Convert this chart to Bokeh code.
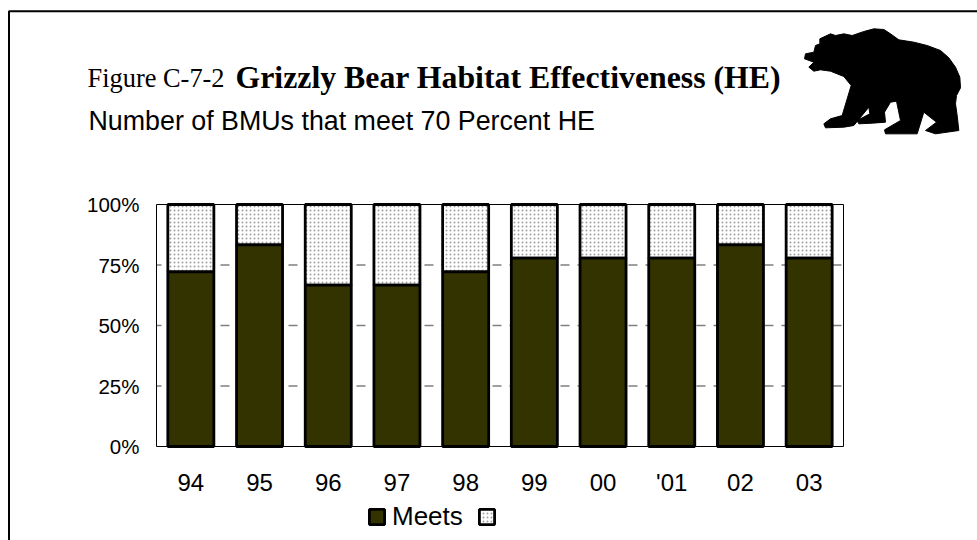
from bokeh.embed import file_html
from bokeh.resources import INLINE
from bokeh.plotting import figure
from bokeh.models import (ColumnDataSource, Range1d, FixedTicker, Label, LinearAxis,
                          Legend, LegendItem, PolyAnnotation)

years = ["94", "95", "96", "97", "98", "99", "00", "'01", "02", "03"]
meets = [72.2, 83.3, 66.7, 66.7, 72.2, 77.8, 77.8, 77.8, 83.3, 77.8]
total = [100] * 10
y_ticks = [0, 25, 50, 75, 100]
grid_ticks = [25, 50, 75]
y_labels = {0: "0%", 25: "25%", 50: "50%", 75: "75%", 100: "100%"}

# Bear silhouette outline (3x zoom of the crop at x=780, y=0)
bear_outline = [(118,115),(150,100),(165,105),(190,100),(215,105),(250,93),(280,85),(310,87),(330,100),
    (355,118),(400,125),(440,135),(480,150),(505,172),(525,200),(538,230),(540,262),(528,285),(525,310),
    (530,345),(535,390),(465,400),(435,390),(468,365),(430,335),(410,400),(315,400),(312,388),(360,360),
    (348,302),(330,305),(312,335),(315,365),(275,368),(235,370),(230,360),(268,340),(265,320),(220,375),
    (190,380),(135,382),(130,370),(150,355),(185,345),(200,295),(212,255),(190,228),(150,212),(120,208),
    (100,212),(85,200),(100,185),(72,175),(75,160),(100,155),(105,135),(118,130)]

W, H = 977, 540
FRAME_L, FRAME_T, FRAME_R, FRAME_B = 156, 204, 843, 446
n = len(years)
px_x = (FRAME_R - FRAME_L) / n
px_y = (FRAME_B - FRAME_T) / 100
pos = [i + 0.5 for i in range(n)]

src = ColumnDataSource(dict(x=pos, meets=meets, total=total))

p = figure(width=W, height=H, output_backend="svg", toolbar_location=None,
           x_range=Range1d(-FRAME_L / px_x, (W - FRAME_L) / px_x),
           y_range=Range1d(-(H - FRAME_B) / px_y, FRAME_B / px_y),
           x_axis_type=None, y_axis_type=None, min_border=0)
p.outline_line_color = None
p.background_fill_color = "white"
p.border_fill_color = "white"
p.xgrid.visible = False
p.ygrid.visible = False

p.segment(x0=[0] * 3, x1=[n] * 3, y0=grid_ticks, y1=grid_ticks, line_color="#808080", line_width=1.5,
          line_dash="9 8", line_dash_offset=4)
p.quad(left=[0], right=[n], bottom=[0], top=[100], fill_alpha=0, line_color="black", line_width=1)

r2 = p.vbar(x="x", bottom="meets", top="total", width=0.67, source=src, fill_color="white",
            line_color="black", line_width=2.8, hatch_pattern="dot", hatch_color="#a0a0a0",
            hatch_scale=4, hatch_weight=1)
r1 = p.vbar(x="x", bottom=0, top="meets", width=0.67, source=src, fill_color="#333300",
            line_color="black", line_width=2.8)

xaxis = LinearAxis(fixed_location=0, ticker=FixedTicker(ticks=pos),
                   major_label_overrides=dict(zip(pos, years)),
                   major_label_text_font_size="24px", major_label_standoff=22)
yaxis = LinearAxis(fixed_location=0, ticker=FixedTicker(ticks=y_ticks),
                   major_label_overrides=y_labels,
                   major_label_text_font_size="20.5px", major_label_standoff=17)
for ax in (xaxis, yaxis):
    ax.axis_line_color = None
    ax.major_tick_line_color = None
    ax.minor_tick_line_color = None
    ax.major_tick_in = 0
    ax.major_tick_out = 0
    ax.major_label_text_font = "Liberation Sans"
    ax.major_label_text_color = "black"
p.add_layout(xaxis, "below")
p.add_layout(yaxis, "left")

def text(t, x, y, font, size, style="normal"):
    p.add_layout(Label(x=x, y=H - y, x_units="screen", y_units="screen", text=t,
                       text_font=font, text_font_size=size, text_font_style=style,
                       text_color="black", text_baseline="alphabetic"))

text("Figure C-7-2", 87, 77, "Liberation Serif", "26.4px")
text("Grizzly Bear Habitat Effectiveness (HE)", 235, 77, "Liberation Serif", "31.8px", "bold")
text("Number of BMUs that meet 70 Percent HE", 88, 120, "Liberation Sans", "26.8px")

legend = Legend(items=[LegendItem(label="Meets", renderers=[r1]), LegendItem(label=" ", renderers=[r2])],
                orientation="horizontal", location=(367, 540 - 532), background_fill_alpha=0,
                border_line_color=None, label_text_font="Liberation Sans", label_text_font_size="26px",
                label_text_color="black", glyph_width=19, glyph_height=19, spacing=14, padding=0,
                margin=0, label_standoff=6)
p.add_layout(legend, "center")

# page frame: only its left and top edges fall inside the window
p.add_layout(PolyAnnotation(xs=[W + 5, 8.5, 8.5, W + 5], ys=[H - 10.7, H - 10.7, -5, -5], xs_units="screen",
                            ys_units="screen", fill_alpha=0, line_color="black", line_width=2, line_alpha=1))
p.add_layout(PolyAnnotation(xs=[780 + a / 3 for a, b in bear_outline],
                            ys=[H - b / 3 for a, b in bear_outline],
                            xs_units="screen", ys_units="screen", fill_color="black", fill_alpha=1,
                            line_color="black", line_width=1, line_alpha=1))

open("out.html", "w").write(file_html(p, INLINE))
